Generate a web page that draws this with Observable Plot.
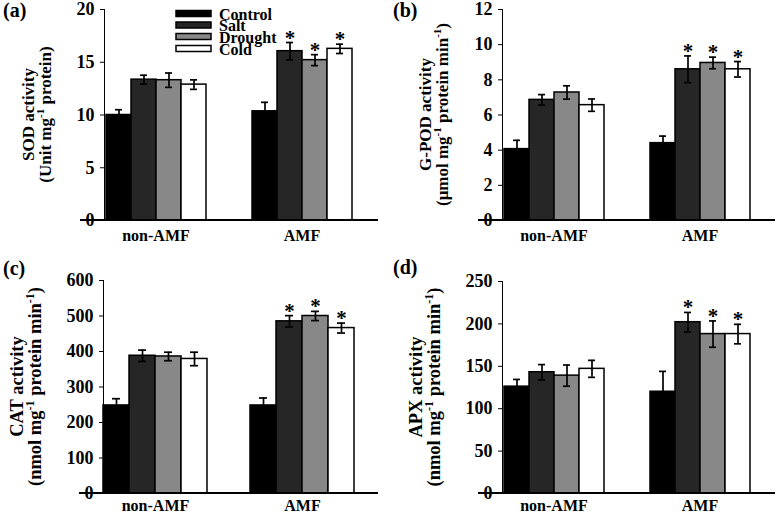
<!DOCTYPE html>
<html>
<head>
<meta charset="utf-8">
<script src="https://cdn.jsdelivr.net/npm/d3@7"></script>
<script src="https://cdn.jsdelivr.net/npm/@observablehq/plot@0.6"></script>
<style>
  body { margin: 0; background: #fff; }
  #wrap { position: relative; width: 777px; height: 512px; overflow: hidden; background: #fff; }
  .panel { position: absolute; }
  .panel svg { overflow: visible; }
  .panel svg text { font-family: 'Liberation Serif', 'Times New Roman', serif; font-weight: bold !important; }
</style>
</head>
<body>
<div id="wrap"></div>
<script>
// ---- data ----
const groups = ["non-AMF", "AMF"];
const treatments = ["Control", "Salt", "Drought", "Cold"];
const fills = ["#000000", "#262626", "#888888", "#ffffff"];

// values ordered: non-AMF (Control, Salt, Drought, Cold), AMF (Control, Salt, Drought, Cold)
const sodMean = [10.0, 13.35, 13.3, 12.88, 10.35, 16.05, 15.2, 16.27];
const sodSE   = [0.5, 0.42, 0.68, 0.45, 0.85, 0.82, 0.52, 0.44];
const podMean = [4.06, 6.86, 7.28, 6.56, 4.4, 8.6, 8.96, 8.6];
const podSE   = [0.5, 0.3, 0.38, 0.35, 0.4, 0.76, 0.33, 0.44];
const catMean = [248, 388, 386, 379, 248, 485, 500, 466];
const catSE   = [19, 16, 12, 19, 21, 16, 13, 14];
const apxMean = [126, 143, 139, 147, 120, 202, 188, 188];
const apxSE   = [8.5, 9, 12.5, 10, 24, 11.5, 15.5, 11.5];
const significant = [0, 0, 0, 0, 0, 1, 1, 1];

const sodTicks = [0, 5, 10, 15, 20];
const podTicks = [0, 2, 4, 6, 8, 10, 12];
const catTicks = [0, 100, 200, 300, 400, 500, 600];
const apxTicks = [0, 50, 100, 150, 200, 250];

const panelLabels = ["(a)", "(b)", "(c)", "(d)"];
const titles1 = ["SOD activity", "G-POD activity", "CAT activity", "APX activity"];
// second line parts: [text, isSuperscript]
const titles2 = [
  [["(Unit mg", 0], ["-1", 1], [" protein)", 0]],
  [["(\u03bcmol mg", 0], ["-1", 1], [" protein min", 0], ["-1", 1], [")", 0]],
  [["(nmol mg", 0], ["-1", 1], [" protein min", 0], ["-1", 1], [")", 0]],
  [["(nmol mg", 0], ["-1", 1], [" protein min", 0], ["-1", 1], [")", 0]]
];

const FONT = "'Liberation Serif', 'Times New Roman', serif";
const wrap = document.getElementById("wrap");

function makeRows(mean, se) {
  const rows = [];
  groups.forEach((g, gi) => treatments.forEach((t, ti) => {
    const i = gi * 4 + ti;
    rows.push({group: g, treatment: t, mean: mean[i], se: se[i], sig: significant[i]});
  }));
  return rows;
}

function panel(cfg) {
  const rows = makeRows(cfg.mean, cfg.se);
  const H = 256;
  const plot = Plot.plot({
    width: cfg.width, height: H,
    marginLeft: cfg.ml, marginRight: cfg.mr, marginTop: cfg.mt, marginBottom: cfg.mb,
    style: {fontFamily: FONT, fontWeight: "bold", fontSize: "18px", color: "#000", background: "transparent"},
    fx: {domain: groups, paddingInner: 0.2925, paddingOuter: 0.16, label: null, axis: "bottom", tickSize: 0, tickPadding: cfg.fxPad},
    x: {domain: treatments, padding: 0, axis: null},
    y: {domain: cfg.domain, ticks: cfg.ticks, tickSize: 4, tickPadding: 6, label: null, line: true},
    color: {domain: treatments, range: fills},
    marks: [
      Plot.barY(rows, {fx: "group", x: "treatment", y: "mean", fill: "treatment", stroke: "#000", strokeWidth: 1.5}),
      Plot.ruleX(rows, {fx: "group", x: "treatment", y1: d => d.mean - d.se, y2: d => d.mean + d.se, stroke: "#000", strokeWidth: 1.7}),
      Plot.tickY(rows, {fx: "group", x: "treatment", y: d => d.mean + d.se, insetLeft: 9, insetRight: 9, stroke: "#000", strokeWidth: 1.7}),
      Plot.tickY(rows, {fx: "group", x: "treatment", y: d => d.mean - d.se, insetLeft: 9, insetRight: 9, stroke: "#000", strokeWidth: 1.7}),
      Plot.text(rows.filter(d => d.sig), {fx: "group", x: "treatment", y: d => d.mean + d.se, text: () => "*", lineAnchor: "bottom", dy: 2, fontSize: 21, fontWeight: "bold", fill: "#000"})
    ]
  });
  const div = document.createElement("div");
  div.className = "panel";
  div.style.left = cfg.left + "px";
  div.style.top = cfg.top + "px";
  div.appendChild(plot);
  wrap.appendChild(div);

  const svg = d3.select(plot);
  svg.selectAll("[aria-label='fx-axis tick label'] text, [aria-label='fx-axis tick label']").attr("font-size", 16);
  // x axis baseline spanning the whole frame, placed with the plot's own y scale
  const y0 = plot.scale("y").apply(0);
  svg.append("line").attr("x1", cfg.ml).attr("x2", cfg.width - cfg.mr)
    .attr("y1", y0).attr("y2", y0).attr("stroke", "#000").attr("stroke-width", 2);

  const g = svg.append("g").attr("font-family", FONT).attr("font-weight", "bold")
    .attr("fill", "#000").attr("text-anchor", "start");
  // panel label
  g.append("text").attr("x", 3).attr("y", cfg.labelY).attr("font-size", 20).text(panelLabels[cfg.idx]);
  // y-axis title (two lines)
  const cy = (cfg.mt + H - cfg.mb) / 2;
  g.append("text")
    .attr("transform", `translate(${cfg.ml - cfg.t1},${cy}) rotate(-90)`)
    .attr("text-anchor", "middle").attr("font-size", cfg.tfs)
    .text(titles1[cfg.idx]);
  const t2 = g.append("text")
    .attr("transform", `translate(${cfg.ml - cfg.t2},${cy}) rotate(-90)`)
    .attr("text-anchor", "middle").attr("font-size", cfg.tfs);
  let shifted = false;
  const supSize = Math.round(cfg.tfs * 0.65);
  titles2[cfg.idx].forEach(([s, sup]) => {
    const ts = t2.append("tspan").text(s);
    if (sup) { ts.attr("font-size", supSize).attr("dy", -0.4 * cfg.tfs); shifted = true; }
    else if (shifted) { ts.attr("dy", 0.4 * cfg.tfs); shifted = false; }
  });
  return g;
}

const ga = panel({idx: 0, mean: sodMean, se: sodSE, domain: [0, 20], ticks: sodTicks,
  left: 0, top: 0, width: 388, ml: 80, mr: 10, mt: 9, mb: 36, fxPad: 9, labelY: 17,
  tfs: 17, t1: 46, t2: 29});
panel({idx: 1, mean: podMean, se: podSE, domain: [0, 12], ticks: podTicks,
  left: 390, top: 0, width: 387, ml: 88, mr: 2, mt: 9, mb: 36, fxPad: 9, labelY: 17,
  tfs: 17, t1: 47, t2: 30});
panel({idx: 2, mean: catMean, se: catSE, domain: [0, 600], ticks: catTicks,
  left: 0, top: 256, width: 388, ml: 79, mr: 10, mt: 24, mb: 19, fxPad: 6, labelY: 19,
  tfs: 18.5, t1: 56, t2: 38});
panel({idx: 3, mean: apxMean, se: apxSE, domain: [0, 250], ticks: apxTicks,
  left: 390, top: 256, width: 387, ml: 88, mr: 2, mt: 25, mb: 19, fxPad: 6, labelY: 18,
  tfs: 18.5, t1: 56, t2: 38});

// legend inside panel (a)
const legendBase = [19.5, 31, 42.5, 54.5];
treatments.forEach((t, i) => {
  ga.append("rect").attr("x", 176).attr("y", legendBase[i] - 9).attr("width", 35).attr("height", 6)
    .attr("fill", fills[i]).attr("stroke", "#000").attr("stroke-width", 1.5);
  ga.append("text").attr("x", 219).attr("y", legendBase[i]).attr("font-size", 16).text(t);
});
</script>
</body>
</html>
